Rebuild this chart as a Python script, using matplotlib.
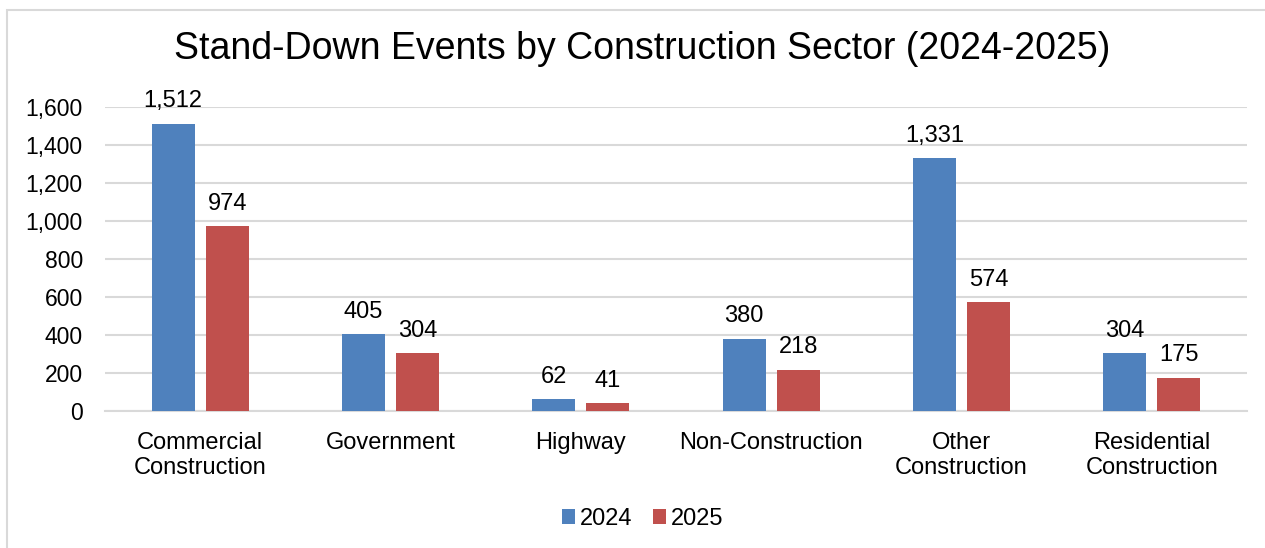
import matplotlib.pyplot as plt
from matplotlib.patches import Rectangle
import numpy as np

plt.rcParams['font.family'] = ['Liberation Sans', 'DejaVu Sans']

sectors = ['Commercial\nConstruction', 'Government', 'Highway', 'Non-Construction',
           'Other\nConstruction', 'Residential\nConstruction']
events_2024 = [1512, 405, 62, 380, 1331, 304]
events_2025 = [974, 304, 41, 218, 574, 175]
years = ['2024', '2025']

blue = '#4F81BD'
red = '#C0504D'
grid_c = '#D9D9D9'

fig = plt.figure(figsize=(12.65, 5.48), dpi=100)
ax = fig.add_axes([0.083, 0.25, 0.9028, 0.5547])

x = np.arange(len(sectors))
w = 0.226
off = 0.142
b1 = ax.bar(x - off, events_2024, w, color=blue, label=years[0], zorder=3)
b2 = ax.bar(x + off, events_2025, w, color=red, label=years[1], zorder=3)

for bars in (b1, b2):
    for b in bars:
        ax.text(b.get_x() + b.get_width() / 2, b.get_height() + 60,
                '{:,}'.format(int(b.get_height())), ha='center', va='bottom', fontsize=17)

ax.set_xlim(-0.5, len(sectors) - 0.5)
ax.set_ylim(0, 1600)
ax.set_yticks(np.arange(0, 1601, 200))
ax.set_yticklabels(['{:,}'.format(v) for v in range(0, 1601, 200)])
ax.set_xticks(x)
ax.set_xticklabels(sectors, fontsize=17, linespacing=1.2)
ax.tick_params(axis='y', labelsize=16.5, length=0, pad=16)
ax.tick_params(axis='x', length=0, pad=15)
ax.grid(axis='y', color=grid_c, lw=1.5, zorder=0)
for s in ['top', 'right', 'left']:
    ax.spines[s].set_visible(False)
ax.spines['bottom'].set_color(grid_c)
ax.spines['bottom'].set_linewidth(1.5)

fig.text(0.508, 0.91, 'Stand-Down Events by Construction Sector (2024-2025)',
         ha='center', va='center', fontsize=27)

fig.legend(handles=[b1, b2], labels=years, loc='center', bbox_to_anchor=(0.508, 0.053),
           ncol=2, frameon=False, fontsize=17, handlelength=0.55, handleheight=0.55,
           handletextpad=0.2, columnspacing=0.9)

fig.patches.append(Rectangle((7 / 1265, -0.1), 1.2, 0.1 + 1 - 10 / 548,
                             transform=fig.transFigure, fill=False,
                             edgecolor=grid_c, lw=1.5))

fig.savefig('out.png', dpi=100)
